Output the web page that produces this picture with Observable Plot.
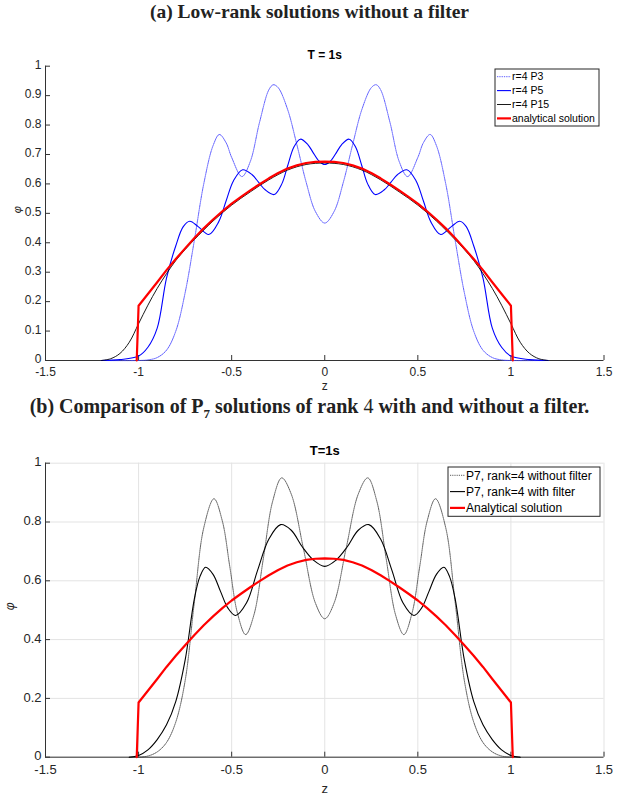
<!DOCTYPE html>
<html>
<head>
<meta charset="utf-8">
<script src="https://cdn.jsdelivr.net/npm/d3@7"></script>
<script src="https://cdn.jsdelivr.net/npm/@observablehq/plot@0.6"></script>
<style>
  html, body { margin: 0; padding: 0; background: #fff; }
  #wrap { position: relative; width: 619px; height: 800px; overflow: hidden; background: #fff; }
  .cap { position: absolute; left: 0; width: 619px; text-align: center; font-family: "Liberation Serif", "Times New Roman", serif; font-weight: bold; color: #222; white-space: nowrap; }
  .pl { position: absolute; left: 0; }
  .leg { position: absolute; }
</style>
</head>
<body>
<div id="wrap">
  <div class="cap" style="top:0;height:24px;line-height:24px;font-size:19.5px;">(a) Low-rank solutions without a filter</div>
  <div id="pa" class="pl" style="top:24px;"></div>
  <div class="cap" style="top:393px;height:26px;line-height:26px;font-size:20px;">(b) Comparison of P<sub style="font-size:13px;line-height:0;">7</sub> solutions of rank <span style="font-weight:normal;">4</span> with and without a filter.</div>
  <div id="pb" class="pl" style="top:419px;"></div>
</div>
<script>
// ---------- data ----------
const xTicks = [-1.5, -1, -0.5, 0, 0.5, 1, 1.5];
const yTicksA = [0, 0.1, 0.2, 0.3, 0.4, 0.5, 0.6, 0.7, 0.8, 0.9, 1];
const yTicksB = [0, 0.2, 0.4, 0.6, 0.8, 1];

// analytical solution (both panels)
const zRed = [-1.01, -1, -0.95, -0.9, -0.85, -0.8, -0.75, -0.7, -0.65, -0.6, -0.55, -0.5, -0.45, -0.4, -0.35, -0.3, -0.25, -0.2, -0.15, -0.1, -0.05, 0,
  0.05, 0.1, 0.15, 0.2, 0.25, 0.3, 0.35, 0.4, 0.45, 0.5, 0.55, 0.6, 0.65, 0.7, 0.75, 0.8, 0.85, 0.9, 0.95, 1, 1.01];
const phiRed = [0, 0.186, 0.226, 0.266, 0.307, 0.345, 0.381, 0.416, 0.449, 0.479, 0.507, 0.533, 0.556, 0.578, 0.599, 0.619, 0.637, 0.652, 0.663, 0.671, 0.675, 0.676,
  0.675, 0.671, 0.663, 0.652, 0.637, 0.619, 0.599, 0.578, 0.556, 0.533, 0.507, 0.479, 0.449, 0.416, 0.381, 0.345, 0.307, 0.266, 0.226, 0.186, 0];

// panel (a): r=4 P3
const zP3 = [-1.2, -1.0, -0.95, -0.9, -0.85, -0.8, -0.75, -0.7, -0.65, -0.6, -0.566, -0.53, -0.5, -0.445, -0.4, -0.35, -0.3, -0.276, -0.25, -0.2, -0.15, -0.1, -0.05, 0,
  0.05, 0.1, 0.15, 0.2, 0.25, 0.276, 0.3, 0.35, 0.4, 0.445, 0.5, 0.53, 0.566, 0.6, 0.65, 0.7, 0.75, 0.8, 0.85, 0.9, 0.95, 1.0, 1.2];
const phiP3 = [0, 0, 0.002, 0.01, 0.035, 0.1, 0.23, 0.41, 0.6, 0.73, 0.768, 0.74, 0.69, 0.625, 0.676, 0.81, 0.92, 0.937, 0.927, 0.854, 0.734, 0.606, 0.506, 0.467,
  0.506, 0.606, 0.734, 0.854, 0.927, 0.937, 0.92, 0.81, 0.676, 0.625, 0.69, 0.74, 0.768, 0.73, 0.6, 0.41, 0.23, 0.1, 0.035, 0.01, 0.002, 0, 0];

// panel (a): r=4 P5
const zP5 = [-1.2, -1.1, -1.0, -0.95, -0.9, -0.85, -0.8, -0.76, -0.725, -0.68, -0.623, -0.57, -0.53, -0.49, -0.441, -0.39, -0.356, -0.32, -0.271, -0.23, -0.2, -0.165, -0.131, -0.09, -0.065, -0.03, 0,
  0.03, 0.065, 0.09, 0.131, 0.165, 0.2, 0.23, 0.271, 0.32, 0.356, 0.39, 0.441, 0.49, 0.53, 0.57, 0.623, 0.68, 0.725, 0.76, 0.8, 0.85, 0.9, 0.95, 1.0, 1.1, 1.2];
const phiP5 = [0, 0.003, 0.015, 0.045, 0.11, 0.28, 0.39, 0.455, 0.473, 0.455, 0.428, 0.471, 0.542, 0.611, 0.648, 0.631, 0.606, 0.58, 0.564, 0.601, 0.66, 0.726, 0.752, 0.733, 0.709, 0.677, 0.666,
  0.677, 0.709, 0.733, 0.752, 0.726, 0.66, 0.601, 0.564, 0.58, 0.606, 0.631, 0.648, 0.611, 0.542, 0.471, 0.428, 0.455, 0.473, 0.455, 0.39, 0.28, 0.11, 0.045, 0.015, 0.003, 0];

// panel (a): r=4 P15
const zP15 = [-1.2, -1.15, -1.1, -1.05, -1.0, -0.95, -0.9, -0.85, -0.8, -0.75, -0.7, -0.6, -0.5, -0.4, -0.3, -0.2, -0.1, 0,
  0.1, 0.2, 0.3, 0.4, 0.5, 0.6, 0.7, 0.75, 0.8, 0.85, 0.9, 0.95, 1.0, 1.05, 1.1, 1.15, 1.2];
const phiP15 = [0, 0.006, 0.024, 0.062, 0.125, 0.188, 0.245, 0.295, 0.34, 0.377, 0.411, 0.474, 0.528, 0.573, 0.614, 0.647, 0.666, 0.671,
  0.666, 0.647, 0.614, 0.573, 0.528, 0.474, 0.411, 0.377, 0.34, 0.295, 0.245, 0.188, 0.125, 0.062, 0.024, 0.006, 0];

// panel (b): P7 rank 4 without filter
const zNoF = [-1.05, -1.0, -0.95, -0.9, -0.85, -0.8, -0.75, -0.7, -0.65, -0.595, -0.55, -0.51, -0.47, -0.425, -0.38, -0.33, -0.28, -0.231, -0.18, -0.115, -0.05, 0,
  0.05, 0.115, 0.18, 0.231, 0.28, 0.33, 0.38, 0.425, 0.47, 0.51, 0.55, 0.595, 0.65, 0.7, 0.75, 0.8, 0.85, 0.9, 0.95, 1.0, 1.05];
const phiNoF = [0, 0, 0.004, 0.018, 0.05, 0.12, 0.26, 0.53, 0.78, 0.879, 0.803, 0.648, 0.493, 0.417, 0.485, 0.675, 0.87, 0.95, 0.895, 0.711, 0.524, 0.471,
  0.524, 0.711, 0.895, 0.95, 0.87, 0.675, 0.485, 0.417, 0.493, 0.648, 0.803, 0.879, 0.78, 0.53, 0.26, 0.12, 0.05, 0.018, 0.004, 0, 0];

// panel (b): P7 rank 4 with filter
const zF = [-1.05, -1.0, -0.95, -0.9, -0.85, -0.8, -0.75, -0.7, -0.67, -0.64, -0.6, -0.56, -0.52, -0.479, -0.42, -0.36, -0.3, -0.237, -0.18, -0.12, -0.06, 0,
  0.06, 0.12, 0.18, 0.237, 0.3, 0.36, 0.42, 0.479, 0.52, 0.56, 0.6, 0.64, 0.67, 0.7, 0.75, 0.8, 0.85, 0.9, 0.95, 1.0, 1.05];
const phiF = [0, 0.006, 0.025, 0.06, 0.11, 0.19, 0.33, 0.54, 0.615, 0.646, 0.622, 0.564, 0.507, 0.482, 0.525, 0.637, 0.742, 0.791, 0.772, 0.715, 0.67, 0.649,
  0.67, 0.715, 0.772, 0.791, 0.742, 0.637, 0.525, 0.482, 0.507, 0.564, 0.622, 0.646, 0.615, 0.54, 0.33, 0.19, 0.11, 0.06, 0.025, 0.006, 0];

const legendA = ["r=4 P3", "r=4 P5", "r=4 P15", "analytical solution"];
const legendB = ["P7, rank=4 without filter", "P7, rank=4 with filter", "Analytical solution"];

// ---------- helpers ----------
const rows = (z, phi) => z.map((v, i) => ({z: v, phi: phi[i]}));
const fmt = d => String(d);
const AX = "#333333";

// ---------- panel (a) ----------
{
  const W = 619, H = 369, mL = 45, mR = 15.5, mT = 41.7, mB = 33;
  const iW = W - mL - mR, iH = H - mT - mB;
  const chart = Plot.plot({
    width: W, height: H, marginLeft: mL, marginRight: mR, marginTop: mT, marginBottom: mB,
    x: {domain: [-1.5, 1.5]},
    y: {domain: [0, 1]},
    style: {fontFamily: "'Liberation Sans', Arial, sans-serif", fontSize: "12px", color: "#262626", background: "white", overflow: "visible"},
    marks: [
      Plot.axisX(xTicks, {tickSize: 0, tickPadding: 7, tickFormat: fmt, label: null, fontSize: 12}),
      Plot.axisY(yTicksA, {tickSize: 0, tickPadding: 4, tickFormat: fmt, label: null, fontSize: 12, dy: -1}),
      Plot.ruleY([0], {stroke: AX, strokeWidth: 1}),
      Plot.ruleX([-1.5], {stroke: AX, strokeWidth: 1}),
      Plot.tickX(xTicks, {x: d => d, stroke: AX, insetTop: iH - 5}),
      Plot.tickY(yTicksA, {y: d => d, stroke: AX, insetRight: iW - 5}),
      Plot.line(rows(zP3, phiP3), {x: "z", y: "phi", stroke: "#4a4aff", strokeWidth: 0.9, strokeDasharray: "1.3,1", curve: "catmull-rom"}),
      Plot.line(rows(zP5, phiP5), {x: "z", y: "phi", stroke: "#0000ff", strokeWidth: 1.1, curve: "catmull-rom"}),
      Plot.line(rows(zP15, phiP15), {x: "z", y: "phi", stroke: "#000000", strokeWidth: 0.9, curve: "catmull-rom"}),
      Plot.line(rows(zRed, phiRed), {x: "z", y: "phi", stroke: "#ff0000", strokeWidth: 2.2, curve: "linear"}),
      Plot.text(["T = 1s"], {text: d => d, frameAnchor: "top", lineAnchor: "middle", dy: -11.5, fontWeight: "bold", fontSize: 12, fill: "#000"}),
      Plot.text(["z"], {text: d => d, frameAnchor: "bottom", lineAnchor: "middle", dy: 26, fontSize: 12, fill: "#262626"}),
      Plot.text(["φ"], {text: d => d, frameAnchor: "left", lineAnchor: "middle", dx: -28, rotate: -90, fontStyle: "italic", fontSize: 11, fill: "#262626"})
    ]
  });
  document.getElementById("pa").appendChild(chart);
}

// ---------- panel (b) ----------
{
  const W = 619, H = 381, mL = 45, mR = 15.5, mT = 43.7, mB = 43.3;
  const iW = W - mL - mR, iH = H - mT - mB;
  const chart = Plot.plot({
    width: W, height: H, marginLeft: mL, marginRight: mR, marginTop: mT, marginBottom: mB,
    x: {domain: [-1.5, 1.5]},
    y: {domain: [0, 1]},
    style: {fontFamily: "'Liberation Sans', Arial, sans-serif", fontSize: "13px", color: "#262626", background: "white", overflow: "visible"},
    marks: [
      Plot.ruleX(xTicks, {stroke: "#e3e3e3", strokeWidth: 1}),
      Plot.ruleY(yTicksB, {stroke: "#e3e3e3", strokeWidth: 1}),
      Plot.axisX(xTicks, {tickSize: 0, tickPadding: 8, tickFormat: fmt, label: null, fontSize: 13}),
      Plot.axisY(yTicksB, {tickSize: 0, tickPadding: 4, tickFormat: fmt, label: null, fontSize: 13, dy: -1}),
      Plot.ruleY([0], {stroke: AX, strokeWidth: 1}),
      Plot.ruleX([-1.5], {stroke: AX, strokeWidth: 1}),
      Plot.tickX(xTicks, {x: d => d, stroke: AX, insetTop: iH - 5}),
      Plot.tickY(yTicksB, {y: d => d, stroke: AX, insetRight: iW - 5}),
      Plot.line(rows(zNoF, phiNoF), {x: "z", y: "phi", stroke: "#333", strokeWidth: 0.8, strokeDasharray: "1.2,1", curve: "catmull-rom"}),
      Plot.line(rows(zF, phiF), {x: "z", y: "phi", stroke: "#000", strokeWidth: 1.1, curve: "catmull-rom"}),
      Plot.line(rows(zRed, phiRed), {x: "z", y: "phi", stroke: "#ff0000", strokeWidth: 2.2, curve: "linear"}),
      Plot.text(["T=1s"], {text: d => d, frameAnchor: "top", lineAnchor: "middle", dy: -12.7, fontWeight: "bold", fontSize: 13, fill: "#000"}),
      Plot.text(["z"], {text: d => d, frameAnchor: "bottom", lineAnchor: "middle", dy: 32, fontSize: 13, fill: "#262626"}),
      Plot.text(["φ"], {text: d => d, frameAnchor: "left", lineAnchor: "middle", dx: -35, rotate: -90, fontStyle: "italic", fontSize: 12, fill: "#262626"})
    ]
  });
  document.getElementById("pb").appendChild(chart);
}

// ---------- legends ----------
function legend(items, styles, box, fontSize) {
  const ns = "http://www.w3.org/2000/svg";
  const svg = document.createElementNS(ns, "svg");
  svg.setAttribute("width", box.w + 2);
  svg.setAttribute("height", box.h + 2);
  svg.setAttribute("class", "leg");
  svg.style.left = (box.x - 1) + "px";
  svg.style.top = (box.y - 1) + "px";
  const r = document.createElementNS(ns, "rect");
  r.setAttribute("x", 1); r.setAttribute("y", 1);
  r.setAttribute("width", box.w); r.setAttribute("height", box.h);
  r.setAttribute("fill", "#fff"); r.setAttribute("stroke", "#262626"); r.setAttribute("stroke-width", 1);
  svg.appendChild(r);
  items.forEach((t, i) => {
    const cy = 1 + box.r0 + i * box.dy;
    const l = document.createElementNS(ns, "line");
    l.setAttribute("x1", 1 + box.l0); l.setAttribute("x2", 1 + box.l1);
    l.setAttribute("y1", cy); l.setAttribute("y2", cy);
    const s = styles[i];
    l.setAttribute("stroke", s.stroke); l.setAttribute("stroke-width", s.w);
    if (s.dash) l.setAttribute("stroke-dasharray", s.dash);
    svg.appendChild(l);
    const tx = document.createElementNS(ns, "text");
    tx.setAttribute("x", 1 + box.tx); tx.setAttribute("y", cy);
    tx.setAttribute("dy", "0.35em");
    tx.setAttribute("font-family", "'Liberation Sans', Arial, sans-serif");
    tx.setAttribute("font-size", fontSize);
    tx.setAttribute("fill", "#000");
    tx.textContent = t;
    svg.appendChild(tx);
  });
  document.getElementById("wrap").appendChild(svg);
}
legend(legendA,
  [{stroke: "#4a4aff", w: 0.9, dash: "1.3,1"}, {stroke: "#0000ff", w: 1.1}, {stroke: "#000", w: 0.9}, {stroke: "#ff0000", w: 2.2}],
  {x: 495, y: 69, w: 104, h: 57, r0: 7.7, dy: 13.9, l0: 2, l1: 16, tx: 17}, 10.5);
legend(legendB,
  [{stroke: "#333", w: 0.8, dash: "1.2,1"}, {stroke: "#000", w: 1.1}, {stroke: "#ff0000", w: 2.2}],
  {x: 448, y: 466.7, w: 152, h: 49.3, r0: 8.3, dy: 16.3, l0: 2, l1: 17, tx: 18}, 12);
</script>
</body>
</html>
